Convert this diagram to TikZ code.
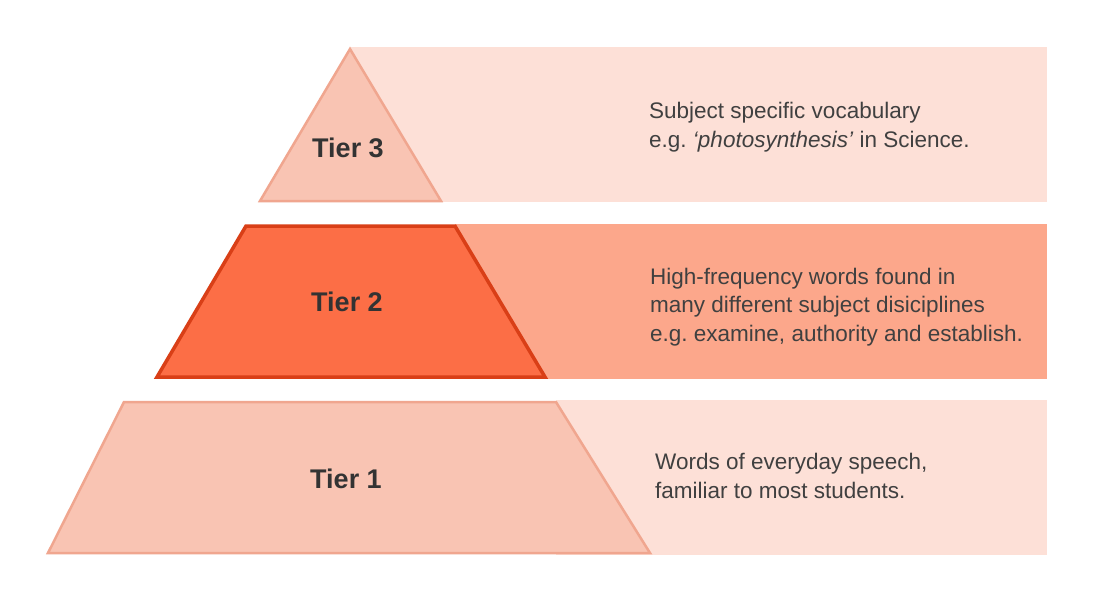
\documentclass[tikz,border=0pt]{standalone}
\usepackage{fontspec}
\setmainfont{Liberation Sans}
\frenchspacing
\definecolor{bandA}{HTML}{FDE0D7}
\definecolor{bandB}{HTML}{FCA78B}
\definecolor{lightfill}{HTML}{F9C4B3}
\definecolor{lightline}{HTML}{F0A68F}
\definecolor{darkfill}{HTML}{FC6E46}
\definecolor{darkline}{HTML}{D93F17}
\definecolor{labeltext}{HTML}{333333}
\definecolor{desctext}{HTML}{404040}
\tikzset{
  lightshape/.style={fill=lightfill, draw=lightline, line width=2.5pt, line join=miter},
  darkshape/.style={fill=darkfill, draw=darkline, line width=3.5pt, line join=miter},
  tierlabel/.style={font=\fontsize{27}{30}\selectfont\bfseries, text=labeltext, inner sep=0pt},
  desc/.style={font=\fontsize{22.5}{28.5}\selectfont\frenchspacing, text=desctext, align=left, anchor=base west, inner sep=0pt}
}
\begin{document}
\begin{tikzpicture}[x=1pt,y=-1pt]
\useasboundingbox[fill=white] (0,0) rectangle (1108,600);
% bands
\fill[bandA] (350,47) rectangle (1047,202);
\fill[bandB] (455,224) rectangle (1047,379);
\fill[bandA] (556,400) rectangle (1047,555);
% tier 3 triangle
\draw[lightshape] (350,49) -- (441,201) -- (260,201) -- cycle;
% tier 2 trapezoid
\draw[darkshape] (246,226) -- (455,226) -- (545,377) -- (157,377) -- cycle;
% tier 1 trapezoid
\draw[lightshape] (124,402) -- (556,402) -- (650,553) -- (48,553) -- cycle;
% labels
\node[tierlabel] (t3) at (348,148) {Tier 3};
\node[tierlabel] (t2) at (347,302) {Tier 2};
\node[tierlabel] (t1) at (346,479) {Tier 1};
% descriptions (anchor = baseline of last line)
\node[desc] (d3) at (649,147) {Subject specific vocabulary\\e.g. \textit{‘photosynthesis’} in Science.};
\node[desc] (d2) at (650,341) {High-frequency words found in\\many different subject disiciplines\\e.g. examine, authority and establish.};
\node[desc] (d1) at (655,498) {Words of everyday speech,\\familiar to most students.};
\end{tikzpicture}
\end{document}
